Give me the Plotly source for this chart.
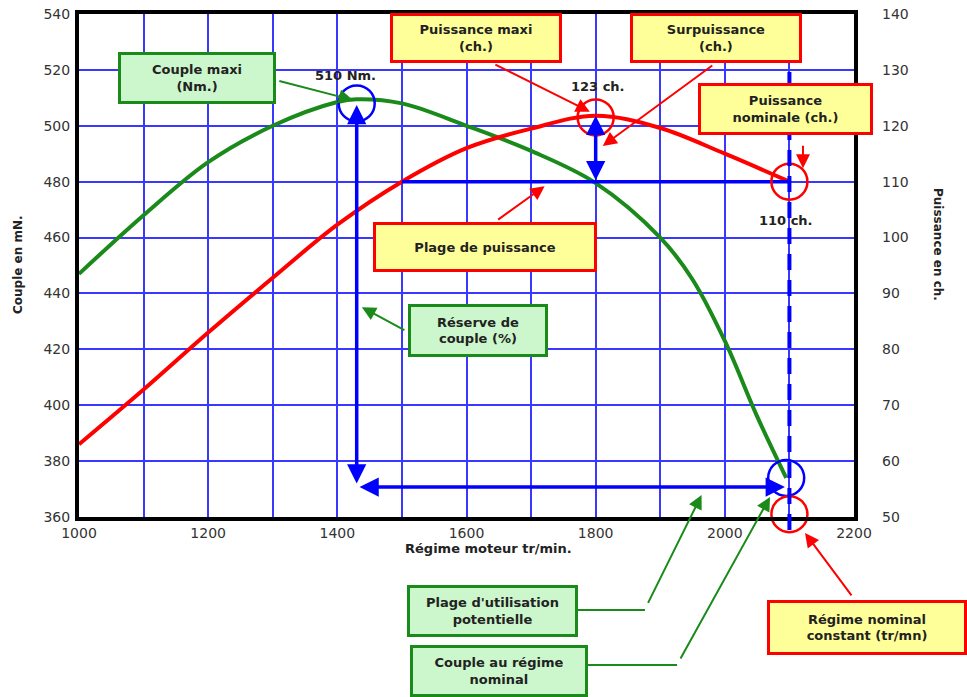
import plotly.graph_objects as go

# couple moteur (Nm) - axe de gauche
regime_couple = [1000, 1100, 1200, 1300, 1400, 1430, 1500, 1600, 1700, 1800, 1900, 1950, 2000, 2050, 2095]
couple = [447, 468, 487, 500, 508.5, 509.5, 508, 500, 491, 479.5, 460, 445, 423, 396, 374]

# puissance (ch) - axe de droite
regime_puissance = [1000, 1100, 1200, 1300, 1400, 1500, 1600, 1700, 1800, 1900, 2000, 2100]
puissance = [63, 72.8, 83, 92.8, 102.3, 110, 116, 119.5, 121.8, 119.6, 115, 110]

# plage de puissance (trait bleu horizontal)
plage_x = [1500, 2100]
plage_y = [110, 110]

# cercles de repere
cercles_couple_x = [1430, 2095]
cercles_couple_y = [508, 374]
cercles_puiss_x = [1800, 2100, 2100]
cercles_puiss_y = [121.5, 110, 50.5]

regime_nominal = 2100
x_ticks = [1000, 1200, 1400, 1600, 1800, 2000, 2200]

# la marge du body est mise a 0 (post_script), la figure occupe toute la fenetre
W, H = 967, 697
PW, PH = 775, 503
L, T = 79, 14
R, B = W - L - PW, H - T - PH

VERT = "#1a8a1a"
ROUGE = "#ff0000"
BLEU = "#0000ff"
FONT = "DejaVu Sans"


# positions en pixels -> coordonnees papier
def px(x):
    return (x - L) / PW


def py(y):
    return (T + PH - y) / PH


fig = go.Figure()
fig.add_trace(go.Scatter(x=regime_couple, y=couple, mode="lines",
                         line=dict(color=VERT, width=4, shape="spline"), name="Couple"))
fig.add_trace(go.Scatter(x=regime_puissance, y=puissance, mode="lines", yaxis="y2",
                         line=dict(color=ROUGE, width=4, shape="spline"), name="Puissance"))
fig.add_trace(go.Scatter(x=plage_x, y=plage_y, mode="lines", yaxis="y2",
                         line=dict(color=BLEU, width=3.5)))
fig.add_trace(go.Scatter(x=cercles_couple_x, y=cercles_couple_y, mode="markers", cliponaxis=False,
                         marker=dict(symbol="circle-open", size=36, color=BLEU, line=dict(width=2.5, color=BLEU))))
fig.add_trace(go.Scatter(x=cercles_puiss_x, y=cercles_puiss_y, mode="markers", yaxis="y2", cliponaxis=False,
                         marker=dict(symbol="circle-open", size=36, color=ROUGE, line=dict(width=2.5, color=ROUGE))))

# regime nominal en pointilles
fig.add_shape(type="line", xref="x", yref="paper", x0=regime_nominal, x1=regime_nominal,
              y0=py(530), y1=py(72), line=dict(color=BLEU, width=4, dash="16px,10px"))

ann = []


def boite(cx, cy, w, h, texte, fond, bord):
    ann.append(dict(xref="paper", yref="paper", x=px(cx), y=py(cy), xanchor="center", yanchor="middle",
                    text="<br>".join("<b>%s</b>" % t for t in texte.split("\n")), showarrow=False,
                    bgcolor=fond, bordercolor=bord, borderwidth=3, borderpad=2,
                    width=w - 10, height=h - 10, align="center",
                    font=dict(family=FONT, size=13, color="#222")))


def fleche(x, y, ax, ay, couleur, yref="y", xref="x", larg=2, taille=1.4):
    ann.append(dict(xref=xref, yref=yref, x=x, y=y, ax=ax, ay=ay, text=" ", showarrow=True,
                    arrowhead=2, arrowsize=taille, arrowwidth=larg, arrowcolor=couleur, standoff=0))


def double(x0, y0, x1, y1, yref="y"):
    ann.append(dict(xref="x", yref=yref, axref="x", ayref=yref, x=x1, y=y1, ax=x0, ay=y0, text="",
                    showarrow=True, arrowhead=2, arrowside="end+start", arrowsize=1.1,
                    arrowwidth=3.5, arrowcolor=BLEU, standoff=0, startstandoff=0))


def texte(cx, cy, t, size=13, angle=0, anchor="center"):
    ann.append(dict(xref="paper", yref="paper", x=px(cx), y=py(cy), xanchor=anchor, yanchor="middle",
                    text="<b>%s</b>" % t, showarrow=False, textangle=angle,
                    font=dict(family=FONT, size=size, color="#222")))


JAUNE_F = "#ffff99"
VERT_F = "#ccf7cc"

# fleches bleues
double(1430, 508, 1430, 372)
double(1432, 370.7, 2093, 370.7)
double(1800, 110, 1800, 121.8, yref="y2")

# fleches des etiquettes
fleche(1424, 509.2, -77, -20, VERT)
fleche(1791, 122.5, -98, -49, ROUGE, yref="y2")
fleche(1811, 116.4, 113, -83, ROUGE, yref="y2")
fleche(2121, 112.4, 0, -32, ROUGE, yref="y2")
fleche(1721, 109.2, -50, 36, ROUGE, yref="y2")
fleche(1438, 435.1, 46, 25, VERT)
fleche(1964, 367.9, -57, 115, VERT)
fleche(2070, 367.2, -93, 168, VERT)
fleche(px(805), py(533), 50, 67, ROUGE, yref="paper", xref="paper")

# connecteurs coudes
fig.add_shape(type="line", xref="paper", yref="paper", x0=px(578), y0=py(610), x1=px(645), y1=py(610),
              line=dict(color=VERT, width=2))
fig.add_shape(type="line", xref="paper", yref="paper", x0=px(588), y0=py(665), x1=px(677), y1=py(665),
              line=dict(color=VERT, width=2))

boite(197, 78, 158, 52, "Couple maxi\n(Nm.)", VERT_F, VERT)
boite(476, 38, 172, 50, "Puissance maxi\n(ch.)", JAUNE_F, ROUGE)
boite(716, 38, 172, 50, "Surpuissance\n(ch.)", JAUNE_F, ROUGE)
boite(785, 109, 175, 52, "Puissance\nnominale (ch.)", JAUNE_F, ROUGE)
boite(485, 247, 224, 50, "Plage de puissance", JAUNE_F, ROUGE)
boite(478, 331, 140, 53, "Réserve de\ncouple (%)", VERT_F, VERT)
boite(492, 611, 171, 52, "Plage d'utilisation\npotentielle", VERT_F, VERT)
boite(499, 671, 178, 52, "Couple au régime\nnominal", VERT_F, VERT)
boite(867, 627, 200, 55, "Régime nominal\nconstant (tr/mn)", JAUNE_F, ROUGE)

texte(345, 75, "510 Nm.")
texte(598, 86, "123 ch.")
texte(786, 220, "110 ch.")

# titres d'axes
texte(18, 265, "Couple en mN.", size=12, angle=-90)
texte(938, 244, "Puissance en ch.", size=12, angle=90)
texte(403, 548, "Régime moteur tr/min.", anchor="left")

grille = dict(showgrid=True, gridcolor="#3838ff", gridwidth=1.5)
fig.update_layout(
    width=W, height=H, margin=dict(l=L, r=R, t=T, b=B, autoexpand=False),
    paper_bgcolor="white", plot_bgcolor="white", showlegend=False,
    font=dict(family=FONT, size=14, color="#333"),
    xaxis=dict(range=[1000, 2200], tickvals=x_ticks, ticks="", zeroline=False, automargin=False,
               showline=True, mirror=True, linecolor="black", linewidth=4,
               minor=dict(dtick=100, showgrid=True, gridcolor="#3838ff", gridwidth=1.5),
               ticklabelstandoff=0, ticklabeloverflow="allow", **grille),
    yaxis=dict(range=[360, 540], dtick=20, ticks="", zeroline=False, automargin=False,
               showline=True, mirror=True, linecolor="black", linewidth=4,
               ticklabelstandoff=2, ticklabeloverflow="allow", **grille),
    yaxis2=dict(range=[50, 140], dtick=10, overlaying="y", side="right", showgrid=False,
                zeroline=False, ticks="", showline=False, automargin=False, ticklabelstandoff=27,
                ticklabeloverflow="allow"),
    annotations=ann,
)

fig.write_html("out.html", config={"displayModeBar": False},
               post_script="document.body.style.margin = '0'; document.body.style.overflow = 'hidden';")
